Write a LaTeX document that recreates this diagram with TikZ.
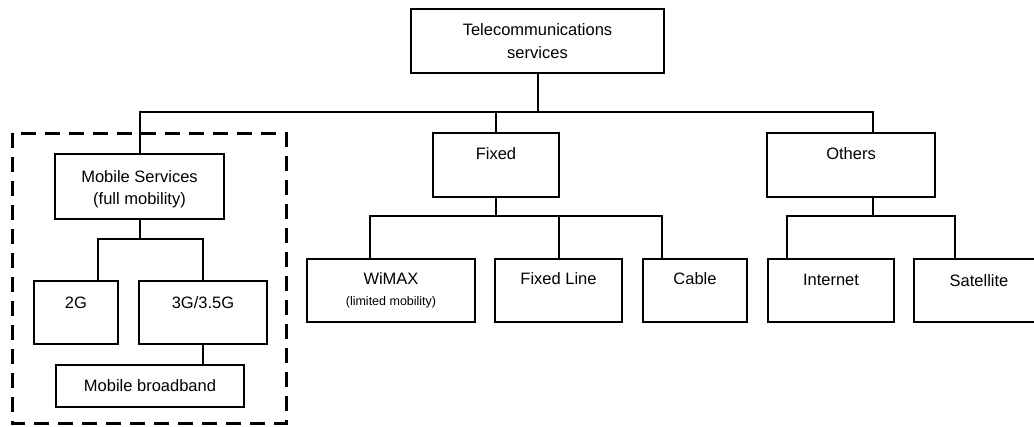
\documentclass[tikz,border=0pt]{standalone}
\usepackage{fontspec}
\setmainfont{Liberation Sans}
\begin{document}
\begin{tikzpicture}[x=1pt,y=-1pt,
  box/.style={draw, line width=2pt, inner sep=0pt, anchor=north west,
    font=\fontsize{16.5}{22}\selectfont},
  link/.style={line width=2pt},
  dashbox/.style={line width=3pt, dash pattern=on 15pt off 9pt}]
\useasboundingbox (0,0) rectangle (1034,426);

% nodes
\node[box, minimum width=253pt, text height=26.7pt, text depth=37.3pt,
  font=\fontsize{16.5}{23}\selectfont] (top) at (410,8)
  {\begin{tabular}[t]{@{}c@{}}Telecommunications\\services\end{tabular}};
\node[box, minimum width=169pt, text height=28.7pt, text depth=36.3pt] (mob) at (54,153)
  {\begin{tabular}[t]{@{}c@{}}Mobile Services\\(full mobility)\end{tabular}};
\node[box, minimum width=126pt, text height=26.7pt, text depth=37.3pt] (fixed) at (432,132) {Fixed};
\node[box, minimum width=168pt, text height=26.7pt, text depth=37.3pt] (oth) at (766,132) {Others};
\node[box, minimum width=84pt, text height=27.7pt, text depth=35.3pt] (g2) at (33,280) {2G};
\node[box, minimum width=128pt, text height=27.7pt, text depth=35.3pt] (g3) at (138,280) {3G/3.5G};
\node[box, minimum width=188pt, text height=26.7pt, text depth=15.3pt] (mbb) at (55,364) {Mobile broadband};
\node[box, minimum width=168pt, text height=25.7pt, text depth=37.3pt,
  font=\fontsize{16.5}{20.6}\selectfont] (wimax) at (306,258)
  {\begin{tabular}[t]{@{}c@{}}WiMAX\\{\fontsize{12.5}{14}\selectfont (limited mobility)}\end{tabular}};
\node[box, minimum width=127pt, text height=25.7pt, text depth=37.3pt] (fline) at (494,258) {Fixed Line};
\node[box, minimum width=104pt, text height=25.7pt, text depth=37.3pt] (cable) at (642,258) {Cable};
\node[box, minimum width=126pt, text height=26.7pt, text depth=36.3pt] (inet) at (767,258) {Internet};
\node[box, minimum width=130pt, text height=27.7pt, text depth=35.3pt] (sat) at (913,258) {Satellite};

% bus levels and off-centre attachment points
\coordinate (busA) at (0,112);
\coordinate (busB) at (0,239);
\coordinate (busC) at (0,216);
\coordinate (busD) at (0,216);
\coordinate (othN) at ([xshift=21.7pt]oth.north);
\coordinate (othS) at ([xshift=21.7pt]oth.south);
\coordinate (g2N) at ([xshift=21.7pt]g2.north);
\coordinate (wimaxN) at ([xshift=-21pt]wimax.north);
\coordinate (cableN) at ([xshift=20.3pt]cable.north west);
\coordinate (inetN) at ([xshift=20.3pt]inet.north west);
\coordinate (satN) at ([xshift=41.7pt]sat.north west);

% top level
\draw[link] (top.south) -- (top.south |- busA);
\draw[link] (mob.north) -- (mob.north |- busA) -- (othN |- busA) -- (othN);
\draw[link] (fixed.north) -- (fixed.north |- busA);

% mobile subtree
\draw[link] (mob.south) -- (mob.south |- busB);
\draw[link] (g2N) -- (g2N |- busB) -- (g3.north |- busB) -- (g3.north);
\draw[link] (g3.south) -- (g3.south |- mbb.north);

% fixed subtree
\draw[link] (fixed.south) -- (fixed.south |- busC);
\draw[link] (wimaxN) -- (wimaxN |- busC) -- (cableN |- busC) -- (cableN);
\draw[link] (fline.north) -- (fline.north |- busC);

% others subtree
\draw[link] (othS) -- (othS |- busD);
\draw[link] (inetN) -- (inetN |- busD) -- (satN |- busD) -- (satN);

% dashed frame around mobile services
\draw[dashbox] (12,133) rectangle (286,423);
\end{tikzpicture}
\end{document}
